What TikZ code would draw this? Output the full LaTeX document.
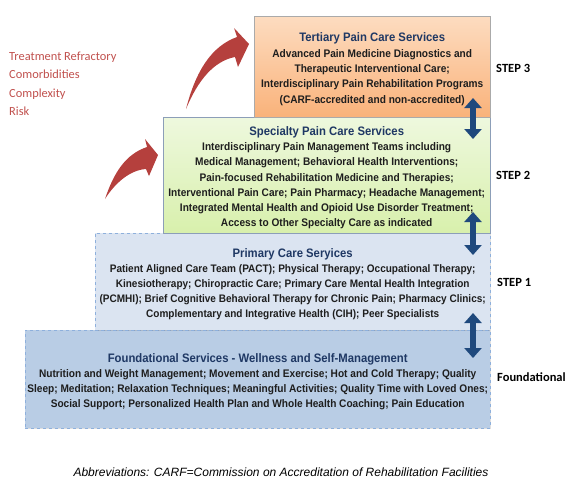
\documentclass[tikz,border=0pt]{standalone}
\usepackage{fontspec}
\setmainfont{Liberation Sans}
\newfontfamily\narrowfont[FakeStretch=0.92]{Liberation Sans}
\newfontfamily\calfont{Carlito}
\usepackage {tikz}
\usetikzlibrary {positioning}
\usetikzlibrary{arrows.meta,shadows}
\definecolor{titleblue}{RGB}{31,56,100}
\definecolor{bodygray}{RGB}{30,30,30}
\definecolor{riskred}{RGB}{192,80,77}
\definecolor{arrowred}{RGB}{181,64,61}
\definecolor{stepblue}{RGB}{31,73,125}
\definecolor{dashblue}{RGB}{142,176,220}
\tikzstyle{tier} = [rectangle, anchor=north west, inner sep=0pt,
    drop shadow={shadow xshift=1.2pt, shadow yshift=-1.2pt, opacity=0.25}]
\tikzstyle{tiertext} = [inner sep=0pt, align=center, yshift=-2.5pt,
    text=bodygray, font=\narrowfont\bfseries\fontsize{11}{15.3}\selectfont]
\tikzstyle{steplabel} = [anchor=west, inner sep=0pt, font=\calfont\bfseries\fontsize{12.5}{14}\selectfont]
\tikzstyle{updown} = [draw=stepblue, line width=6pt,
    {Triangle[width=17pt,length=10pt]}-{Triangle[width=17pt,length=10pt]}]
\newcommand{\tiertitle}[1]{{\fontsize{12.3}{16}\selectfont\color{titleblue}#1}}

\begin{document}
\begin{tikzpicture}[x=1pt, y=-1pt]
    \useasboundingbox (0,0) rectangle (580,491);
    % Place nodes
    \node [tier, minimum width=465pt, minimum height=98pt, draw=dashblue, dashed,
        fill={rgb,255:red,185;green,205;blue,229}] (found) at (25,330) {};
    \node [tiertext] (foundtext) at (found.center)
        {\tiertitle{Foundational Services - Wellness and Self-Management}\\
        Nutrition and Weight Management; Movement and Exercise; Hot and Cold Therapy; Quality\\
        Sleep; Meditation; Relaxation Techniques; Meaningful Activities; Quality Time with Loved Ones;\\
        Social Support; Personalized Health Plan and Whole Health Coaching; Pain Education};
    \node [tier, minimum width=395pt, minimum height=97pt, draw=dashblue, dashed,
        fill={rgb,255:red,219;green,228;blue,241}] (prim) at (95,233) {};
    \node [tiertext, font=\narrowfont\bfseries\fontsize{10.9}{15}\selectfont] (primtext) at (prim.center)
        {\tiertitle{Primary Care Seryices}\\
        Patient Aligned Care Team (PACT); Physical Therapy; Occupational Therapy;\\
        Kinesiotherapy; Chiropractic Care; Primary Care Mental Health Integration\\
        (PCMHI); Brief Cognitive Behavioral Therapy for Chronic Pain; Pharmacy Clinics;\\
        Complementary and Integrative Health (CIH); Peer Specialists};
    \node [tier, minimum width=327pt, minimum height=116pt, draw={rgb,255:red,140;green,158;blue,184},
        top color={rgb,255:red,238;green,248;blue,222}, bottom color={rgb,255:red,216;green,240;blue,172}] (spec) at (163,117) {};
    \node [tiertext] (spectext) at (spec.center)
        {\tiertitle{Specialty Pain Care Services}\\
        Interdisciplinary Pain Management Teams including\\
        Medical Management; Behavioral Health Interventions;\\
        Pain-focused Rehabilitation Medicine and Therapies;\\
        Interventional Pain Care; Pain Pharmacy; Headache Management;\\
        Integrated Mental Health and Opioid Use Disorder Treatment;\\
        Access to Other Specialty Care as indicated};
    \node [tier, minimum width=236pt, minimum height=101pt, draw={rgb,255:red,170;green,170;blue,170},
        top color={rgb,255:red,253;green,220;blue,192}, bottom color={rgb,255:red,249;green,178;blue,122}] (tert) at (254,16) {};
    \node [tiertext] (terttext) at (tert.center)
        {\tiertitle{Tertiary Pain Care Services}\\
        Advanced Pain Medicine Diagnostics and\\
        Therapeutic Interventional Care;\\
        Interdisciplinary Pain Rehabilitation Programs\\
        (CARF-accredited and non-accredited)};
    % labels
    \node [anchor=west, inner sep=0pt, align=left, text=riskred,
        font=\calfont\fontsize{12.4}{18.5}\selectfont] (risk) at (9,84)
        {Treatment Refractory\\Comorbidities\\Complexity\\Risk};
    \node [steplabel] (s3) at (496,68) {STEP 3};
    \node [steplabel] (s2) at (496,175) {STEP 2};
    \node [steplabel] (s1) at (497,282) {STEP 1};
    \node [steplabel] (s0) at (497,377) {Foundational};
    \node [inner sep=0pt, font=\itshape\fontsize{12}{14}\selectfont] (abbr) at (281,472)
        {Abbreviations: CARF=Commission on Accreditation of Rehabilitation Facilities};
    % red arrows
    \fill [arrowred] (186,109) .. controls (196,70) and (212,46) .. (237,37) -- (234,28) -- (249,44)
        -- (238,67) -- (235,57) .. controls (214,61) and (198,80) .. cycle;
    \fill [arrowred] (105,199) .. controls (114,172) and (126,154) .. (147,147) -- (145,139) -- (158,155)
        -- (149,176) -- (146,169) .. controls (130,170) and (115,183) .. cycle;
    % arrows
    \coordinate (a3t) at (473,98);
    \coordinate (a3b) at (473,139);
    \coordinate (a2t) at (473,212);
    \coordinate (a2b) at (473,255);
    \coordinate (a1t) at (473,313);
    \coordinate (a1b) at (473,358);
    \path [updown] (a3t) -- (a3b);
    \path [updown] (a2t) -- (a2b);
    \path [updown] (a1t) -- (a1b);
\end{tikzpicture}
\end{document}
